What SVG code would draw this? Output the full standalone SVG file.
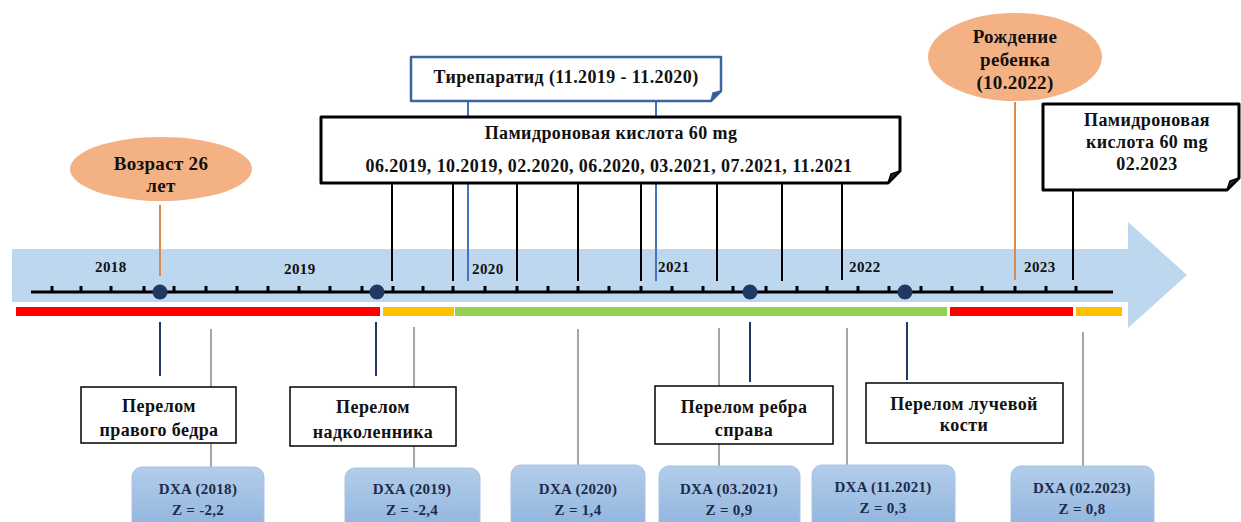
<svg xmlns="http://www.w3.org/2000/svg" width="1241" height="522" viewBox="0 0 1241 522">
<defs>
<linearGradient id="dxaGrad" x1="0" y1="0" x2="0" y2="1">
<stop offset="0" stop-color="#b3cdea"/>
<stop offset="1" stop-color="#8fb3dd"/>
</linearGradient>
<style>
text{font-family:"Liberation Serif","Times New Roman",serif;font-weight:bold;fill:#111;}
.lbl{font-size:18px;letter-spacing:0.4px;text-anchor:middle;}
.ell{font-size:19px;letter-spacing:0.3px;text-anchor:middle;}
.yr{font-size:15px;letter-spacing:0.4px;}
.dxa{font-size:15px;letter-spacing:0.3px;text-anchor:middle;fill:#1c2b4a;}
.box{fill:#fff;stroke:#000;stroke-width:1.5;}
.fold{fill:#fff;stroke:#000;stroke-width:3;stroke-linejoin:round;}
.dxabox{fill:url(#dxaGrad);stroke:#a9c2e2;stroke-width:1;}
.oval{fill:#f4b183;}
.blk{stroke:#000;stroke-width:2;}
.blu{stroke:#4472c4;stroke-width:2;}
.org{stroke:#d98a4e;stroke-width:2;}
.nav{stroke:#1f3864;stroke-width:2;}
.gry{stroke:#a6a6a6;stroke-width:2;}
.dot{fill:#1f3864;}
</style>
</defs>
<rect width="1241" height="522" fill="#fff"/>

<g id="timeline">
<polygon points="12,249 1128,249 1128,222 1187,275 1128,328 1128,302 12,302" fill="#bdd7ee"/>
<rect x="16" y="307" width="364" height="9" fill="#ff0000"/>
<rect x="383" y="307" width="71" height="9" fill="#ffc000"/>
<rect x="455" y="307" width="492" height="9" fill="#92d050"/>
<rect x="950" y="307" width="123" height="9" fill="#ff0000"/>
<rect x="1076" y="307" width="46" height="9" fill="#ffc000"/>
<line x1="31" y1="292" x2="1113" y2="292" stroke="#000" stroke-width="3"/>
<path d="M52 286V292M81 286V292M111 286V292M144 286V292M174 286V292M206 286V292M237 286V292M268 286V292M299 286V292M330 286V292M362 286V292M393 286V292M423 286V292M453 286V292M485 286V292M517 286V292M548 286V292M578 286V292M609 286V292M641 286V292M672 286V292M703 286V292M733 286V292M766 286V292M797 286V292M827 286V292M858 286V292M889 286V292M921 286V292M952 286V292M982 286V292M1015 286V292M1046 286V292M1076 286V292" stroke="#000" stroke-width="3"/>
<text class="yr" x="95" y="272">2018</text>
<text class="yr" x="284" y="274">2019</text>
<text class="yr" x="472" y="274">2020</text>
<text class="yr" x="658" y="272">2021</text>
<text class="yr" x="849" y="272">2022</text>
<text class="yr" x="1024" y="272">2023</text>
</g>

<g id="connectors">
<line class="org" x1="160" y1="205" x2="160" y2="276"/>
<line class="org" x1="1015" y1="102" x2="1015" y2="280"/>
<line class="blu" x1="468" y1="101" x2="468" y2="281"/>
<line class="blu" x1="656" y1="101" x2="656" y2="281"/>
<line class="blk" x1="392" y1="183" x2="392" y2="281"/>
<line class="blk" x1="453" y1="183" x2="453" y2="281"/>
<line class="blk" x1="517" y1="183" x2="517" y2="281"/>
<line class="blk" x1="578" y1="183" x2="578" y2="281"/>
<line class="blk" x1="641" y1="183" x2="641" y2="281"/>
<line class="blk" x1="717" y1="183" x2="717" y2="281"/>
<line class="blk" x1="782" y1="183" x2="782" y2="281"/>
<line class="blk" x1="842" y1="183" x2="842" y2="280"/>
<line class="blk" x1="1073" y1="190" x2="1073" y2="280"/>
<line class="nav" x1="160" y1="322" x2="160" y2="376"/>
<line class="nav" x1="376" y1="322" x2="376" y2="376"/>
<line class="nav" x1="750" y1="322" x2="750" y2="382"/>
<line class="nav" x1="907" y1="322" x2="907" y2="380"/>
<line class="gry" x1="211" y1="329" x2="211" y2="467"/>
<line class="gry" x1="414" y1="327" x2="414" y2="468"/>
<line class="gry" x1="578" y1="329" x2="578" y2="465"/>
<line class="gry" x1="719" y1="328" x2="719" y2="467"/>
<line class="gry" x1="847" y1="328" x2="847" y2="465"/>
<line class="gry" x1="1083" y1="332" x2="1083" y2="466"/>
</g>

<g id="dots">
<circle class="dot" cx="160" cy="292" r="7.5"/>
<circle class="dot" cx="377" cy="292" r="7.5"/>
<circle class="dot" cx="750" cy="292" r="7.5"/>
<circle class="dot" cx="905" cy="292" r="7.5"/>
</g>

<g id="age">
<ellipse class="oval" cx="161" cy="169" rx="91" ry="32"/>
<text class="ell" x="161" y="170">Возраст 26</text>
<text class="ell" x="161" y="192">лет</text>
</g>

<g id="birth">
<ellipse class="oval" cx="1015" cy="57" rx="87" ry="44"/>
<text class="ell" x="1015" y="43">Рождение</text>
<text class="ell" x="1015" y="66">ребенка</text>
<text class="ell" x="1015" y="89">(10.2022)</text>
</g>

<g id="teriparatide">
<path d="M411 57H721V91L711 101H411Z" fill="#fff" stroke="#3b64a0" stroke-width="2.5" stroke-linejoin="round"/>
<path d="M711 101L713 93L721 91Z" fill="#2f5597" stroke="#3b64a0" stroke-width="1.5" stroke-linejoin="round"/>
<text class="lbl" x="566" y="83">Тирепаратид (11.2019 - 11.2020)</text>
</g>

<g id="pamidronate">
<path class="fold" d="M321 117H900V171L888 183H321Z"/>
<path d="M888 183L891 174L900 171Z" fill="#222" stroke="#000" stroke-width="1.5" stroke-linejoin="round"/>
<text class="lbl" x="611" y="139">Памидроновая кислота 60 mg</text>
<text class="lbl" x="609" y="172">06.2019, 10.2019, 02.2020, 06.2020, 03.2021, 07.2021, 11.2021</text>
</g>

<g id="pamidronate2023">
<path class="fold" d="M1043 104H1239V178L1227 190H1043Z"/>
<path d="M1227 190L1230 181L1239 178Z" fill="#222" stroke="#000" stroke-width="1.5" stroke-linejoin="round"/>
<text class="lbl" x="1147" y="126">Памидроновая</text>
<text class="lbl" x="1147" y="148">кислота 60 mg</text>
<text class="lbl" x="1147" y="170">02.2023</text>
</g>

<g id="fracture-femur">
<rect class="box" x="81" y="387" width="155" height="56"/>
<text class="lbl" x="159" y="412">Перелом</text>
<text class="lbl" x="159" y="436">правого бедра</text>
</g>

<g id="fracture-patella">
<rect class="box" x="290" y="387" width="166" height="59"/>
<text class="lbl" x="373" y="413">Перелом</text>
<text class="lbl" x="373" y="438">надколенника</text>
</g>

<g id="fracture-rib">
<rect class="box" x="655" y="386" width="178" height="58"/>
<text class="lbl" x="744" y="413">Перелом ребра</text>
<text class="lbl" x="744" y="436">справа</text>
</g>

<g id="fracture-radius">
<rect class="box" x="866" y="383" width="197" height="60"/>
<text class="lbl" x="964" y="410">Перелом лучевой</text>
<text class="lbl" x="964" y="431">кости</text>
</g>

<g id="dxa2018">
<rect class="dxabox" x="132" y="467" width="132" height="66" rx="10"/>
<text class="dxa" x="198" y="494">DXA (2018)</text>
<text class="dxa" x="198" y="515">Z = -2,2</text>
</g>
<g id="dxa2019">
<rect class="dxabox" x="345" y="468" width="135" height="66" rx="10"/>
<text class="dxa" x="412" y="494">DXA (2019)</text>
<text class="dxa" x="412" y="515">Z = -2,4</text>
</g>
<g id="dxa2020">
<rect class="dxabox" x="511" y="465" width="134" height="66" rx="10"/>
<text class="dxa" x="578" y="494">DXA (2020)</text>
<text class="dxa" x="578" y="515">Z = 1,4</text>
</g>
<g id="dxa032021">
<rect class="dxabox" x="659" y="466" width="141" height="66" rx="10"/>
<text class="dxa" x="729" y="494">DXA (03.2021)</text>
<text class="dxa" x="729" y="515">Z = 0,9</text>
</g>
<g id="dxa112021">
<rect class="dxabox" x="812" y="465" width="143" height="66" rx="10"/>
<text class="dxa" x="883" y="492">DXA (11.2021)</text>
<text class="dxa" x="883" y="513">Z = 0,3</text>
</g>
<g id="dxa022023">
<rect class="dxabox" x="1011" y="466" width="143" height="66" rx="10"/>
<text class="dxa" x="1082" y="493">DXA (02.2023)</text>
<text class="dxa" x="1082" y="514">Z = 0,8</text>
</g>
</svg>
